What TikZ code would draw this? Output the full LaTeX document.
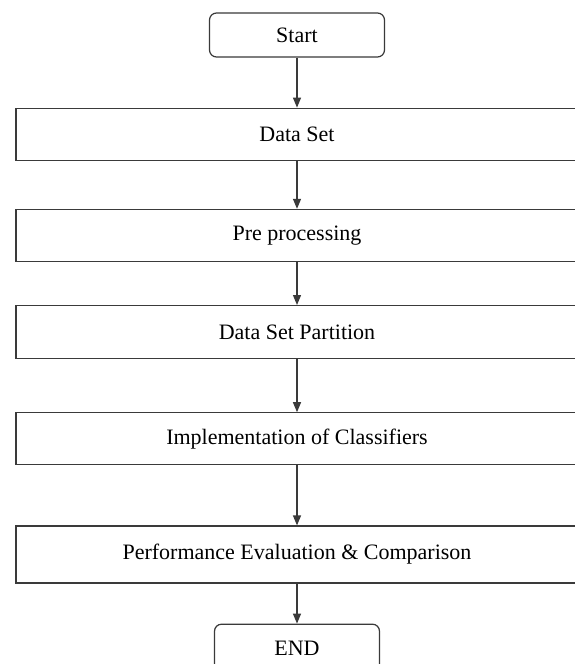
\documentclass[tikz,border=0pt]{standalone}
\usepackage{fontspec}
\setmainfont{Liberation Serif}
\usepackage{tikz}
\usetikzlibrary{arrows.meta,positioning}
\usepackage{xcolor}
\definecolor{edgeGray}{HTML}{3A3A3A}

\begin{document}
\begin{tikzpicture}[x=1pt, y=1pt, every node/.style={font=\fontsize{22}{26}\selectfont, align=center, inner sep=0pt, draw=edgeGray, line width=1.2pt}]
    \useasboundingbox[fill=white] (0,0) rectangle (574,-664);
    \node[rounded corners=7pt, minimum width=175pt, minimum height=44pt] (start) at (297,-35) {Start};
    \node[below=50pt of start, minimum width=562pt, minimum height=52pt] (data) {Data Set};
    \node[below=48pt of data, minimum width=562pt, minimum height=52pt] (pre) {Pre processing};
    \node[below=43pt of pre, minimum width=562pt, minimum height=53pt] (part) {Data Set Partition};
    \node[below=53pt of part, minimum width=562pt, minimum height=52pt] (impl) {Implementation of Classifiers};
    \node[below=60pt of impl, minimum width=562pt, minimum height=57pt] (perf) {Performance Evaluation \& Comparison};
    \node[rounded corners=7pt, below=40pt of perf, minimum width=165pt, minimum height=48pt] (end) {END};
    \draw[-{Triangle[width=8pt,length=10pt]}, line width=1.2pt, edgeGray] (start)--(data);
    \draw[-{Triangle[width=8pt,length=10pt]}, line width=1.2pt, edgeGray] (data)--(pre);
    \draw[-{Triangle[width=8pt,length=10pt]}, line width=1.2pt, edgeGray] (pre)--(part);
    \draw[-{Triangle[width=8pt,length=10pt]}, line width=1.2pt, edgeGray] (part)--(impl);
    \draw[-{Triangle[width=8pt,length=10pt]}, line width=1.2pt, edgeGray] (impl)--(perf);
    \draw[-{Triangle[width=8pt,length=10pt]}, line width=1.2pt, edgeGray] (perf)--(end);
  \end{tikzpicture}
\end{document}
